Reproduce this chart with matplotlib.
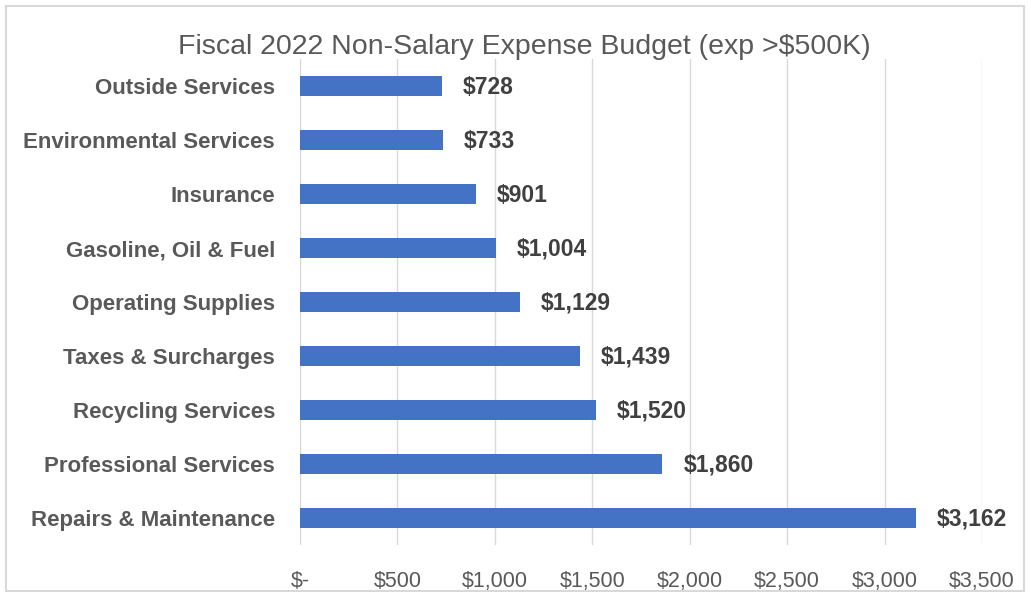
import matplotlib.pyplot as plt
from matplotlib.patches import Rectangle
from matplotlib.ticker import FuncFormatter

# data (in $K), top to bottom as shown
categories = ["Outside Services", "Environmental Services", "Insurance",
              "Gasoline, Oil & Fuel", "Operating Supplies", "Taxes & Surcharges",
              "Recycling Services", "Professional Services", "Repairs & Maintenance"]
values = [728, 733, 901, 1004, 1129, 1439, 1520, 1860, 3162]
xticks = [0, 500, 1000, 1500, 2000, 2500, 3000, 3500]

plt.rcParams["font.family"] = ["Liberation Sans", "DejaVu Sans"]
text_grey = "#595959"

fig = plt.figure(figsize=(10.31, 5.97), dpi=100)
ax = fig.add_axes([300 / 1031, 1 - 545 / 597, 682 / 1031, 486 / 597])

ypos = list(range(len(categories)))
ax.barh(ypos, values, height=0.36, color="#4472C4", zorder=3)
ax.set_ylim(len(categories) - 0.5, -0.5)
ax.set_xlim(0, 3500)
ax.set_yticks(ypos)
ax.set_yticklabels(categories, fontsize=16, fontweight="bold", color=text_grey)

ax.set_xticks(xticks)
ax.xaxis.set_major_formatter(FuncFormatter(lambda v, p: "$-" if v == 0 else f"${v:,.0f}"))
for lab in ax.get_xticklabels():
    lab.set_fontsize(15.5)
    lab.set_color(text_grey)

ax.tick_params(axis="both", length=0)
ax.tick_params(axis="x", pad=19)
ax.tick_params(axis="y", pad=18)
ax.grid(axis="x", color="#d9d9d9", linewidth=1, zorder=0)
for s in ax.spines.values():
    s.set_visible(False)

for y, v in zip(ypos, values):
    ax.annotate(f"${v:,}", (v, y), xytext=(15, -1), textcoords="offset points",
                va="center", ha="left", fontsize=16.5, fontweight="bold", color="#404040")

fig.text(524 / 1031, 1 - 47 / 597, "Fiscal 2022 Non-Salary Expense Budget (exp >$500K)",
         ha="center", va="center", fontsize=20.5, color=text_grey)

fig.patches.append(Rectangle((6 / 1031, 6 / 597), 1018 / 1031, 585 / 597,
                             transform=fig.transFigure, fill=False,
                             edgecolor="#d9d9d9", linewidth=1.5))

fig.savefig("out.png", dpi=100)
